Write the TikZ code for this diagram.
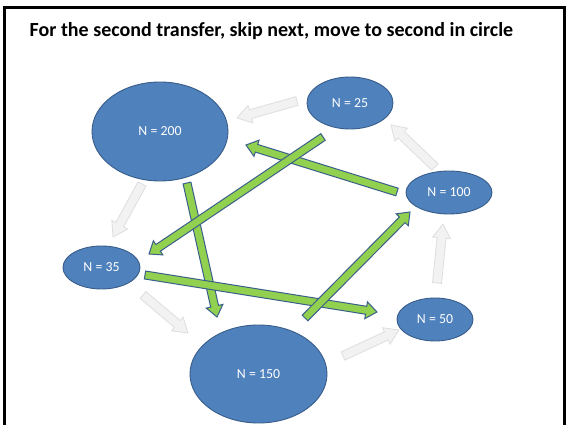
\documentclass[tikz,border=0pt]{standalone}
\usepackage{fontspec}
\setmainfont{Carlito}
\usetikzlibrary{calc}
\definecolor{nodeblue}{HTML}{4F81BD}
\definecolor{nodeedge}{HTML}{385D8A}
\definecolor{greenfill}{HTML}{92D050}
\definecolor{greenedge}{HTML}{3A5F8B}
\definecolor{grayfill}{HTML}{F2F2F2}
\definecolor{grayedge}{HTML}{DEDEDE}
\tikzset{
  pool/.style={ellipse, draw=nodeedge, line width=0.9pt, fill=nodeblue, text=white,
    font=\fontsize{13.8}{16}\selectfont, inner sep=0pt},
  grayarrow/.style={fill=grayfill, draw=grayedge, line width=0.8pt, line join=miter},
  greenarrow/.style={fill=greenfill, draw=greenedge, line width=1pt, line join=miter},
}
\newcommand\blockarrow[6]{%
  \path (#2); \pgfgetlastxy{\bax}{\bay}
  \path (#3); \pgfgetlastxy{\bbx}{\bby}
  \pgfmathsetmacro\baang{atan2(\bby-\bay,\bbx-\bax)}
  \pgfmathsetmacro\balen{veclen(\bbx-\bax,\bby-\bay)}
  \begin{scope}[shift={(#2)},rotate=\baang,x=1pt,y=1pt]
    \draw[#1] (0,-#4) -- (\balen-#6,-#4) -- (\balen-#6,-#5) -- (\balen,0)
      -- (\balen-#6,#5) -- (\balen-#6,#4) -- (0,#4) -- cycle;
  \end{scope}}
\usetikzlibrary{shapes.geometric}
\begin{document}
\begin{tikzpicture}[x=1pt,y=-1pt]
\useasboundingbox (0,0) rectangle (566,425);
\fill[white] (0,0) rectangle (566,425);
\draw[line width=3pt] (4.5,440) -- (4.5,7.5) -- (564.5,7.5) -- (564.5,440);
\node[anchor=base, font=\bfseries\fontsize{20}{24}\selectfont] (title) at (271.5,37)
  {For the second transfer, skip next, move to second in circle};

% gray arrows (coordinates)
\coordinate (g1a) at (297,101); \coordinate (g1b) at (237,118);
\coordinate (g2a) at (142,184); \coordinate (g2b) at (113,237);
\coordinate (g3a) at (143,295); \coordinate (g3b) at (188,333);
\coordinate (g4a) at (343,356); \coordinate (g4b) at (399,330);
\coordinate (g5a) at (437,283); \coordinate (g5b) at (443,224);
\coordinate (g6a) at (435,167); \coordinate (g6b) at (391,125);
\blockarrow{grayarrow}{g1a}{g1b}{4.5}{9}{14}
\blockarrow{grayarrow}{g2a}{g2b}{4.5}{9}{14}
\blockarrow{grayarrow}{g3a}{g3b}{4.5}{9}{14}
\blockarrow{grayarrow}{g4a}{g4b}{4.5}{9}{14}
\blockarrow{grayarrow}{g5a}{g5b}{4.5}{9}{14}
\blockarrow{grayarrow}{g6a}{g6b}{4.5}{9}{14}

% pools
\node[pool, minimum width=136pt, minimum height=99pt] (n200) at (160,131.5) {N = 200};
\node[pool, minimum width=86pt, minimum height=52pt] (n25) at (350,103) {N = 25};
\node[pool, minimum width=86pt, minimum height=43pt] (n100) at (449,192.5) {N = 100};
\node[pool, minimum width=77pt, minimum height=43pt] (n35) at (101.5,267.5) {N = 35};
\node[pool, minimum width=137pt, minimum height=98pt] (n150) at (258.5,374) {N = 150};
\node[pool, minimum width=76pt, minimum height=43pt] (n50) at (435,319.5) {N = 50};

% green arrows
\coordinate (ga) at (187,183); \coordinate (gb) at (217,317);
\coordinate (ca) at (397,192); \coordinate (cb) at (246,145);
\coordinate (ba) at (323,137); \coordinate (bb) at (149,254);
\coordinate (da) at (145,275); \coordinate (db) at (377,312);
\coordinate (ea) at (305,318); \coordinate (eb) at (410,212);
\blockarrow{greenarrow}{ga}{gb}{4}{8.5}{11}
\blockarrow{greenarrow}{ca}{cb}{4}{8.5}{11}
\blockarrow{greenarrow}{ba}{bb}{4}{8.5}{11}
\blockarrow{greenarrow}{da}{db}{4}{8.5}{11}
\blockarrow{greenarrow}{ea}{eb}{4}{8.5}{11}
\end{tikzpicture}
\end{document}
